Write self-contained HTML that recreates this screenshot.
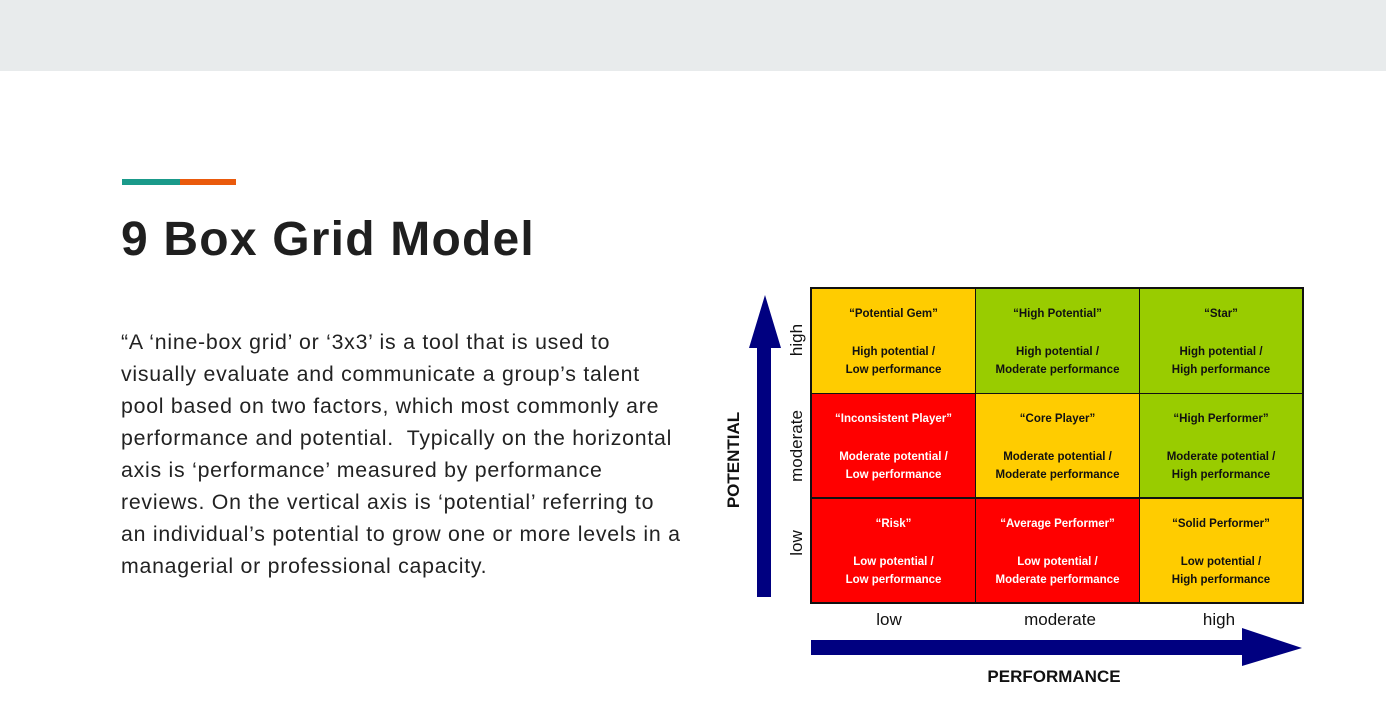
<!DOCTYPE html>
<html><head><style>
body{margin:0;width:1386px;height:725px;background:#fff;position:relative;overflow:hidden;font-family:"Liberation Sans",Arial,sans-serif}
.top{position:absolute;left:0;top:0;width:1386px;height:71px;background:#e8ebec}
.bar1{position:absolute;left:122px;top:179px;width:58px;height:6px;background:#1a9a8a}
.bar2{position:absolute;left:180px;top:179px;width:56px;height:6px;background:#ea5a0c}
h1{position:absolute;left:121px;top:212px;margin:0;font-size:48px;font-weight:bold;color:#1f1f1f;letter-spacing:1.2px}
p{position:absolute;left:121px;top:326px;width:600px;margin:0;font-size:21.3px;line-height:32px;color:#222;white-space:nowrap;letter-spacing:0.75px}
.cell{position:absolute;width:163px;height:104px;text-align:center;font-weight:bold;font-size:11.5px;color:#111;box-sizing:border-box}
.cell .t{position:absolute;top:19px;left:0;right:0}
.cell .d{position:absolute;top:54px;left:0;right:0;line-height:18px}
.y{background:#ffcc00}.g{background:#99cc00}.r{background:#ff0000;color:#fff}
</style></head><body>
<div class="top"></div>
<div class="bar1"></div><div class="bar2"></div>
<h1>9 Box Grid Model</h1>
<p>“A ‘nine-box grid’ or ‘3x3’ is a tool that is used to<br>visually evaluate and communicate a group’s talent<br>pool based on two factors, which most commonly are<br>performance and potential.&nbsp; Typically on the horizontal<br>axis is ‘performance’ measured by performance<br>reviews. On the vertical axis is ‘potential’ referring to<br>an individual’s potential to grow one or more levels in a<br>managerial or professional capacity.</p>

<div style="position:absolute;left:810px;top:287px;width:494px;height:317px;background:#111"></div>
<div class="cell y" style="left:812px;top:289px"><div class="t">“Potential Gem”</div><div class="d">High potential /<br>Low performance</div></div>
<div class="cell g" style="left:976px;top:289px"><div class="t">“High Potential”</div><div class="d">High potential /<br>Moderate performance</div></div>
<div class="cell g" style="left:1140px;top:289px;width:162px"><div class="t">“Star”</div><div class="d">High potential /<br>High performance</div></div>
<div class="cell r" style="left:812px;top:394px;height:103px"><div class="t">“Inconsistent Player”</div><div class="d">Moderate potential /<br>Low performance</div></div>
<div class="cell y" style="left:976px;top:394px;height:103px"><div class="t">“Core Player”</div><div class="d">Moderate potential /<br>Moderate performance</div></div>
<div class="cell g" style="left:1140px;top:394px;height:103px;width:162px"><div class="t">“High Performer”</div><div class="d">Moderate potential /<br>High performance</div></div>
<div class="cell r" style="left:812px;top:499px;height:103px"><div class="t">“Risk”</div><div class="d">Low potential /<br>Low performance</div></div>
<div class="cell r" style="left:976px;top:499px;height:103px"><div class="t">“Average Performer”</div><div class="d">Low potential /<br>Moderate performance</div></div>
<div class="cell y" style="left:1140px;top:499px;height:103px;width:162px"><div class="t">“Solid Performer”</div><div class="d">Low potential /<br>High performance</div></div>

<svg style="position:absolute;left:0;top:0" width="1386" height="725">
<polygon points="757,597 771,597 771,348 781,348 765,295 749,348 757,348" fill="#000080"/>
<polygon points="811,640 1242,640 1242,628 1302,648 1242,666 1242,655 811,655" fill="#000080"/>
<text x="739" y="460" transform="rotate(-90 739 460)" text-anchor="middle" font-family="Liberation Sans" font-weight="bold" font-size="17" fill="#111">POTENTIAL</text>
<text x="802" y="340" transform="rotate(-90 802 340)" text-anchor="middle" font-family="Liberation Sans" font-size="17" fill="#111">high</text>
<text x="802" y="446" transform="rotate(-90 802 446)" text-anchor="middle" font-family="Liberation Sans" font-size="17" fill="#111">moderate</text>
<text x="802" y="543" transform="rotate(-90 802 543)" text-anchor="middle" font-family="Liberation Sans" font-size="17" fill="#111">low</text>
<text x="889" y="625" text-anchor="middle" font-family="Liberation Sans" font-size="17" fill="#111">low</text>
<text x="1060" y="625" text-anchor="middle" font-family="Liberation Sans" font-size="17" fill="#111">moderate</text>
<text x="1219" y="625" text-anchor="middle" font-family="Liberation Sans" font-size="17" fill="#111">high</text>
<text x="1054" y="682" text-anchor="middle" font-family="Liberation Sans" font-weight="bold" font-size="17" fill="#111">PERFORMANCE</text>
</svg>
</body></html>
